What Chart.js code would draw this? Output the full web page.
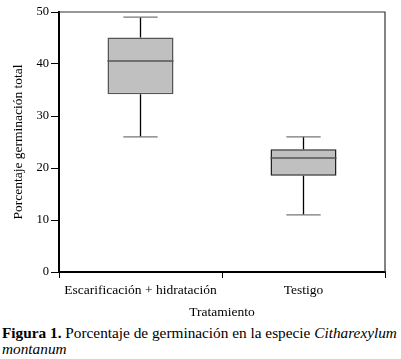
<!DOCTYPE html>
<html>
<head>
<meta charset="utf-8">
<script src="https://cdn.jsdelivr.net/npm/chart.js@4/dist/chart.umd.min.js"></script>
<style>
  html, body { margin: 0; padding: 0; background: #fff; }
  #wrap { position: relative; width: 401px; height: 359px; overflow: hidden; }
  #c { position: absolute; left: 0; top: 0; }
  #cap { position: absolute; left: 2px; top: 325px; width: 399px; font-family: "Liberation Serif", "Times New Roman", serif; font-size: 15.3px; line-height: 16px; color: #000; white-space: nowrap; }
  #cap b { font-weight: bold; }
</style>
</head>
<body>
<div id="wrap">
  <canvas id="c" width="401" height="321"></canvas>
  <div id="cap"><b>Figura 1.</b> Porcentaje de germinación en la especie <i>Citharexylum</i><br><i>montanum</i></div>
</div>
<script>
const categories = ['Escarificación + hidratación', 'Testigo'];
const minVals = [26, 11];
const q1Vals = [34.2, 18.5];
const medianVals = [40.6, 21.9];
const q3Vals = [45.1, 23.6];
const maxVals = [49, 26];
const yTickValues = [0, 10, 20, 30, 40, 50];

const boxData = categories.map((c, i) => [q1Vals[i], q3Vals[i]]);
const serif = '"Liberation Serif", "Times New Roman", serif';

const boxPlugin = {
  id: 'boxExtras',
  afterDatasetsDraw(chart) {
    const ctx = chart.ctx;
    const y = chart.scales.y;
    const meta = chart.getDatasetMeta(0);
    meta.data.forEach((bar, i) => {
      const cx = bar.x;
      const half = bar.width / 2;
      const capHalf = half * 0.52;
      const yMed = y.getPixelForValue(medianVals[i]);
      const yQ1 = y.getPixelForValue(q1Vals[i]);
      const yQ3 = y.getPixelForValue(q3Vals[i]);
      const yMin = y.getPixelForValue(minVals[i]);
      const yMax = y.getPixelForValue(maxVals[i]);
      ctx.save();
      ctx.strokeStyle = '#555';
      ctx.lineWidth = 1.5;
      ctx.beginPath();
      ctx.moveTo(cx - half, yMed);
      ctx.lineTo(cx + half, yMed);
      ctx.stroke();
      ctx.strokeStyle = '#000';
      ctx.lineWidth = 1.3;
      ctx.beginPath();
      ctx.moveTo(cx, yQ3); ctx.lineTo(cx, yMax);
      ctx.moveTo(cx, yQ1); ctx.lineTo(cx, yMin);
      ctx.stroke();
      ctx.strokeStyle = '#777';
      ctx.lineWidth = 1.3;
      ctx.beginPath();
      ctx.moveTo(cx - capHalf, yMax); ctx.lineTo(cx + capHalf, yMax);
      ctx.moveTo(cx - capHalf, yMin); ctx.lineTo(cx + capHalf, yMin);
      ctx.stroke();
      ctx.restore();
    });
    const a = chart.chartArea;
    ctx.save();
    ctx.strokeStyle = '#333';
    ctx.lineWidth = 1.2;
    ctx.beginPath();
    ctx.moveTo(a.left, a.top); ctx.lineTo(a.right, a.top); ctx.lineTo(a.right, a.bottom);
    ctx.stroke();
    ctx.restore();
  }
};

new Chart(document.getElementById('c'), {
  type: 'bar',
  data: {
    labels: categories,
    datasets: [{
      data: boxData,
      backgroundColor: '#c0c0c0',
      borderColor: ['#555', '#222'],
      borderWidth: 1.5,
      borderSkipped: false,
      barPercentage: 0.405,
      categoryPercentage: 1.0
    }]
  },
  options: {
    responsive: false,
    animation: false,
    layout: { padding: { left: 0, top: 12, right: 16, bottom: 0 } },
    plugins: { legend: { display: false }, tooltip: { enabled: false } },
    scales: {
      x: {
        offset: true,
        grid: { display: true, drawOnChartArea: false, drawTicks: true, tickLength: 6, color: '#000', offset: true },
        border: { display: true, color: '#000', width: 2 },
        ticks: { color: '#000', font: { family: serif, size: 13.5 }, padding: 4, maxRotation: 0 },
        title: { display: true, text: 'Tratamiento', color: '#000', font: { family: serif, size: 13.5 }, padding: { top: 0, bottom: 0 } },
        afterFit(scale) { scale.height = 49; }
      },
      y: {
        min: 0, max: 50,
        afterBuildTicks(scale) { scale.ticks = yTickValues.map(v => ({ value: v })); },
        grid: { display: true, drawOnChartArea: false, drawTicks: true, tickLength: 8, color: '#000' },
        border: { display: true, color: '#000', width: 2 },
        ticks: { color: '#000', font: { family: serif, size: 12.5 }, padding: 2 },
        title: { display: true, text: 'Porcentaje germinación total', color: '#000', font: { family: serif, size: 13.5 }, padding: { top: 10, bottom: 0 } },
        afterFit(scale) { scale.width = 59; }
      }
    }
  },
  plugins: [boxPlugin]
});
</script>
</body>
</html>
